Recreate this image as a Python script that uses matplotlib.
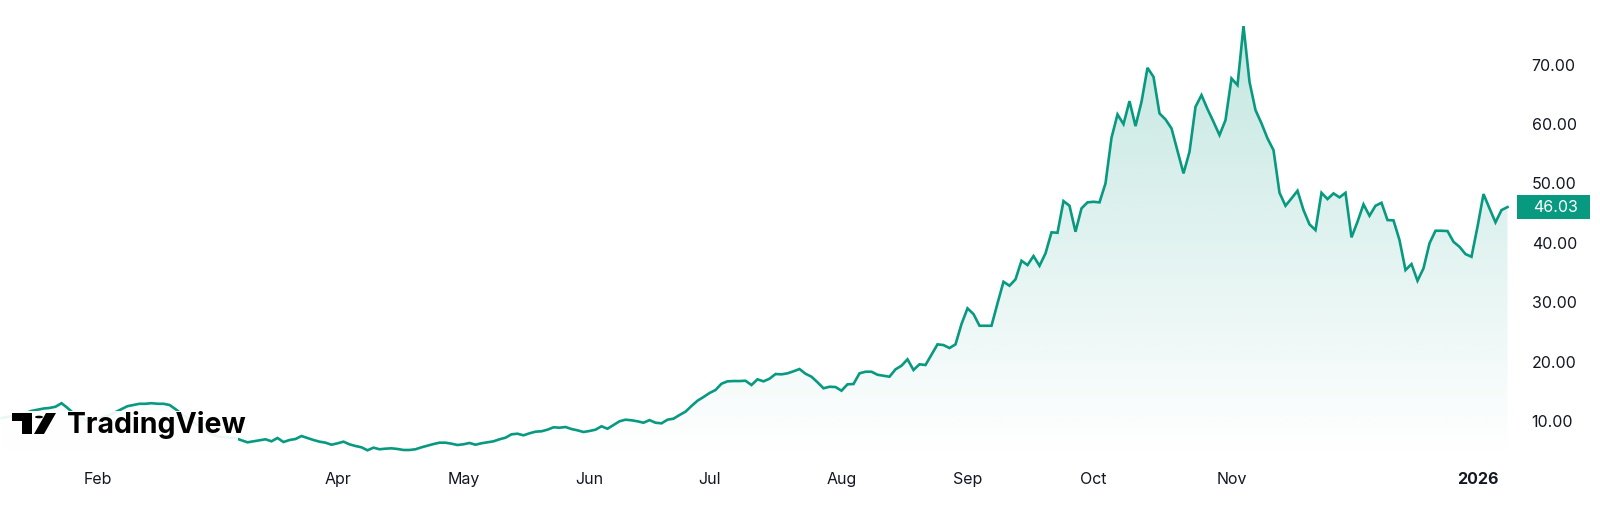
import numpy as np
import pandas as pd
import matplotlib
matplotlib.use('Agg')
import matplotlib.pyplot as plt
from matplotlib import transforms
from matplotlib.patches import Rectangle, Polygon, Circle

plt.rcParams['font.family'] = ['Inter', 'DejaVu Sans']

# trading calendar (US market holidays in the window)
holidays = ['2025-01-09', '2025-01-20', '2025-02-17', '2025-04-18', '2025-05-26',
            '2025-06-19', '2025-07-04', '2025-09-01', '2025-11-27', '2025-12-25',
            '2026-01-01']
dates = pd.bdate_range('2025-01-08', '2026-01-09', freq='C', holidays=holidays)

# daily close
price = [
    # Jan
    10.5, 10.7, 10.8, 11.2, 11.3, 11.7, 11.9, 12.1, 12.2, 12.4, 13.0, 12.2, 11.3, 10.5, 10.3, 10.2,
    # Feb - early Mar
    10.3, 10.7, 11.0, 11.5, 12.0, 12.5, 12.7, 12.9, 12.9, 13.0, 12.9, 12.9, 12.7, 12.0, 11.2, 10.5,
    9.8, 9.0, 8.3, 7.8, 7.4, 7.3, 7.2, 7.1,
    # Mar - Apr
    6.75, 6.41, 6.58, 6.75, 6.92, 6.58, 7.14, 6.46, 6.80, 6.97, 7.47, 7.14, 6.80, 6.52, 6.35, 6.01,
    6.24, 6.52, 6.07, 5.79, 5.57, 5.07, 5.51, 5.24, 5.34, 5.40, 5.29, 5.12, 5.12, 5.24, 5.57, 5.85,
    6.12,
    # Apr - Jun
    6.35, 6.35, 6.18, 5.96, 6.08, 6.30, 6.01, 6.25, 6.41, 6.58, 6.92, 7.19, 7.76, 7.86, 7.59, 7.93,
    8.20, 8.27, 8.54, 8.94, 8.87, 8.99, 8.65, 8.43, 8.15, 8.32, 8.54, 9.11, 8.70, 9.33, 9.95, 10.22,
    10.12, 9.95, 9.71, 10.15,
    # Jun - Aug
    9.71, 9.61, 10.22, 10.39, 11.01, 11.57, 12.53, 13.42, 14.04, 14.71, 15.22, 16.28, 16.68, 16.73,
    16.73, 16.78, 16.06, 17.02, 16.68, 17.12, 17.91, 17.86, 18.03, 18.37, 18.75, 17.96, 17.46, 16.52,
    15.51, 15.77, 15.72, 15.10, 16.18, 16.23, 18.03, 18.30,
    # Aug - Sep
    18.30, 17.79, 17.63, 17.46, 18.70, 19.31, 20.39, 18.59, 19.55, 19.43, 21.16, 22.91, 22.79, 22.29,
    22.91, 26.33, 28.97, 28.01, 26.04, 26.04, 26.04, 29.81, 33.45, 32.78, 33.86, 36.99, 36.26, 37.78,
    36.14, 38.23, 41.77, 41.70, 47.04, 46.25, 41.87, 45.81,
    # Oct - Nov
    46.82, 46.92, 46.82, 50.02, 57.69, 61.63, 60.00, 63.87, 59.66, 63.75, 69.48, 67.96, 61.80, 60.79,
    59.28, 55.51, 51.70, 55.34, 62.91, 64.88, 62.53, 60.39, 58.15, 60.67, 67.69, 66.57, 76.50, 67.12,
    62.36, 60.12, 57.59, 55.62, 48.44, 46.25, 47.49,
    # Nov - Jan
    48.77, 45.52, 43.11, 42.15, 48.43, 47.37, 48.33, 47.66, 48.43, 40.93, 43.55, 46.48, 44.56, 46.25,
    46.75, 43.84, 43.79, 40.47, 35.42, 36.43, 33.62, 35.71, 39.92, 42.04, 42.04, 41.99, 40.18, 39.34,
    38.11, 37.66, 42.71, 48.22, 45.81, 43.45, 45.52, 46.03,
]

month_starts = ['2025-02-01', '2025-04-01', '2025-05-01', '2025-06-01', '2025-07-01',
                '2025-08-01', '2025-09-01', '2025-10-01', '2025-11-01', '2026-01-01']
month_names = ['Feb', 'Apr', 'May', 'Jun', 'Jul', 'Aug', 'Sep', 'Oct', 'Nov', '2026']
y_ticks = [10, 20, 30, 40, 50, 60, 70]

green = '#089981'
text_col = '#131722'

x = np.arange(len(dates))
price = np.array(price)
tick_pos = [int(np.searchsorted(dates, pd.Timestamp(m))) for m in month_starts]

fig = plt.figure(figsize=(16, 5.25), dpi=100)
ax = fig.add_axes([0, 67 / 525, 1515 / 1600, 458 / 525])
ymin, ymax = 3.77, 80.9

# gradient area under the line
poly = ax.fill_between(x, price, ymin, color='none', lw=0)
n = 256
alpha = np.linspace(0.0, 0.24, n)
rgba = np.zeros((n, 1, 4))
rgba[:, 0, 0] = 8 / 255
rgba[:, 0, 1] = 153 / 255
rgba[:, 0, 2] = 129 / 255
rgba[:, 0, 3] = alpha
img = ax.imshow(rgba, extent=[x[0], x[-1], ymin, price.max()], origin='lower',
                aspect='auto', zorder=1, interpolation='bilinear')
img.set_clip_path(poly.get_paths()[0], transform=ax.transData)

ax.plot(x, price, color=green, lw=1.9, zorder=2, solid_joinstyle='miter')

ax.set_xlim(-0.25, len(x) + 0.25)
ax.set_ylim(ymin, ymax)
for s in ax.spines.values():
    s.set_visible(False)

ax.set_xticks(tick_pos)
ax.set_xticklabels(month_names)
ax.tick_params(axis='x', length=0, pad=10, labelsize=11.5, labelcolor=text_col)
ax.get_xticklabels()[-1].set_fontweight('bold')

ax.yaxis.tick_right()
ax.set_yticks(y_ticks)
ax.set_yticklabels([f'{v:.2f}' for v in y_ticks])
ax.tick_params(axis='y', length=0, pad=12, labelsize=11.5, labelcolor=text_col)

# last price label
tr = transforms.blended_transform_factory(fig.transFigure, ax.transData)
last = price[-1]
ax.add_patch(Rectangle((1517 / 1600, last - 2.0), 73 / 1600, 4.0, transform=tr,
                       facecolor=green, edgecolor='none', clip_on=False, zorder=5))
ax.text(1556 / 1600, last, f'{last:.2f}', transform=tr, ha='center', va='center',
        color='white', fontsize=11.5, zorder=6)

# TradingView watermark
fig.patches.append(Rectangle((0, 1 - 446 / 525), 238 / 1600, 35 / 525,
                             transform=fig.transFigure, facecolor='white',
                             edgecolor='none', alpha=0.93, zorder=3))


def px(xp, yp):
    return (xp / 1600, 1 - yp / 525)


fig.patches.append(Polygon([px(12, 413), px(32, 413), px(32, 434), px(22, 434),
                            px(22, 421), px(12, 421)], closed=True,
                           transform=fig.transFigure, facecolor='black', zorder=4))
fig.patches.append(Polygon([px(46, 413), px(56, 413), px(44, 434), px(34, 434)],
                           closed=True, transform=fig.transFigure,
                           facecolor='black', zorder=4))
fig.text(67 / 1600, 1 - 433 / 525, 'TradingView', fontsize=20.5, fontweight='bold',
         color='black', ha='left', va='baseline', zorder=5)
fig.patches.append(Circle(px(39, 417), 4 / 1600, transform=fig.transFigure,
                          facecolor='black', zorder=4))

fig.savefig('out.png', dpi=100, facecolor='white')
